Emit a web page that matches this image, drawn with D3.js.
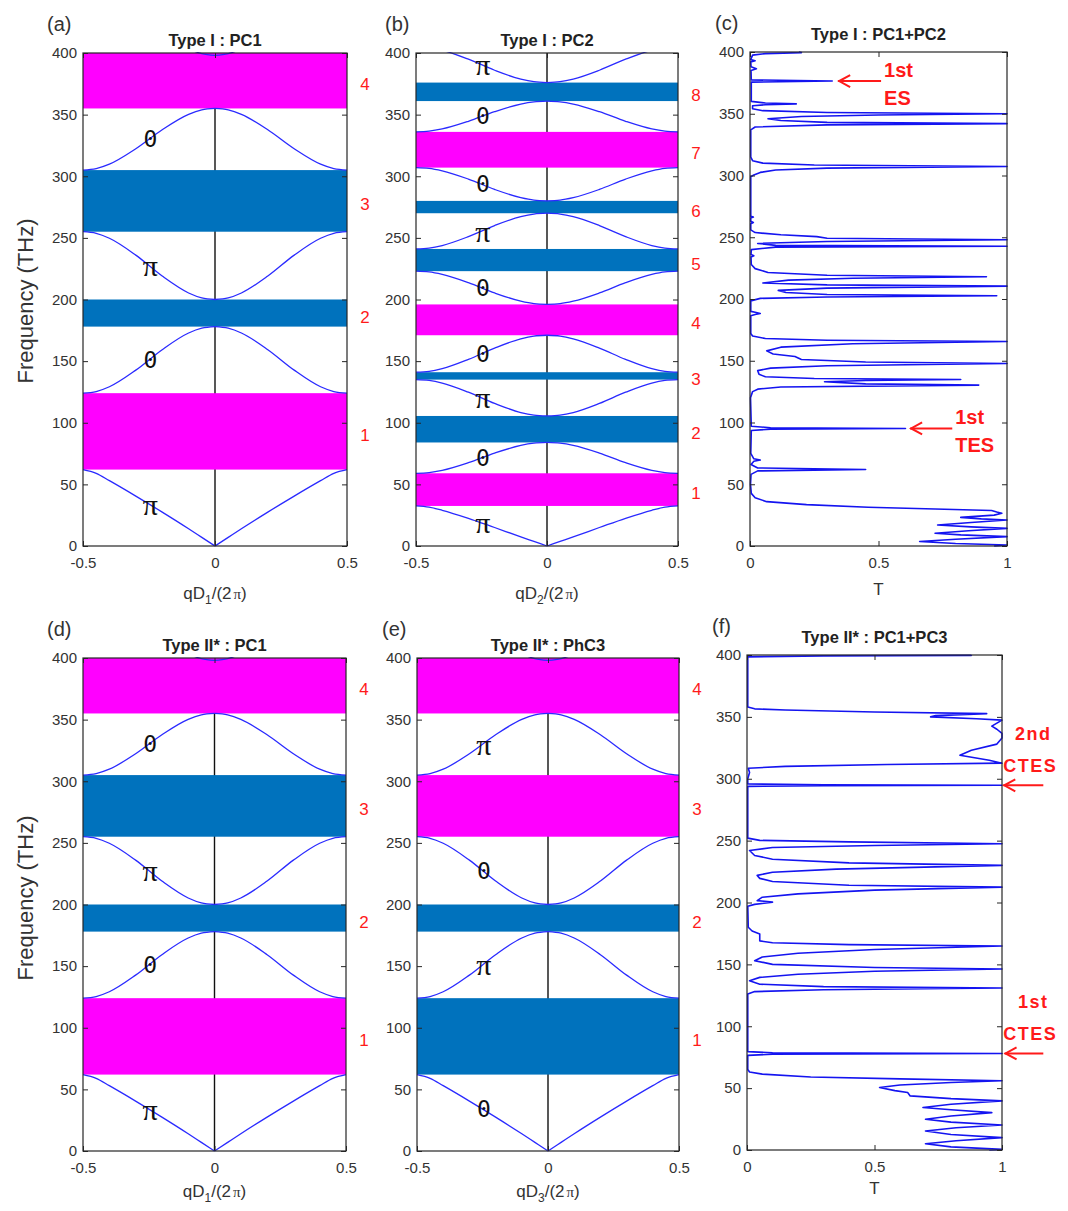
<!DOCTYPE html>
<html><head><meta charset="utf-8">
<script src="https://cdn.jsdelivr.net/npm/d3@7"></script>
<style>body{margin:0;background:#fff}</style>
</head><body><svg id="c" width="1068" height="1211"></svg>
<script>
// ---------------- DATA ----------------
const freqTicks = [0,50,100,150,200,250,300,350,400];
const qTicks = [-0.5,0,0.5];
const tTicks = [0,0.5,1];
const qGrid = [0,0.05,0.1,0.2,0.3,0.4,0.45,0.5];

// PC1 band structure (panels a, d)
const bandsPC1 = [
  [0,7,14,27.5,40.5,53,59,62],
  [178,176.7,172.8,159.3,142.7,129.2,125.3,124],
  [200,201.3,205.3,219,236,249.7,253.7,255],
  [355,353.8,350.2,337.7,322.3,309.8,306.2,305],
  [398,399.4,403.5,418.6,436.4,451.5,455.5,457]
];
const gapsPC1 = [[62,124],[178,200],[255,305],[355,400]];
const gapKindsA = ["m","b","b","m"];
const zakA = ["π","0","π","0"];

// PC2 band structure (panel b)
const bandsPC2 = [
  [0,3.7,7.4,15,22.5,29,31.5,32.5],
  [84,83.4,81.6,75.4,67.6,61.4,59.6,59],
  [105.5,106.2,108.3,115.7,124.8,132.2,134.3,135],
  [171,170.3,168.1,160.6,151.4,143.9,141.7,141],
  [196,196.6,198.6,205.3,213.7,220.4,222.4,223],
  [270,269.3,267.2,260,251,243.8,241.7,241],
  [280,280.6,282.6,289.3,297.7,304.4,306.4,307],
  [361,360.4,358.6,352.4,344.6,338.4,336.6,336],
  [376,376.7,378.8,386,395,402.2,404.3,405]
];
const gapsPC2 = [[32.5,59],[84,105.5],[135,141],[171,196],[223,241],[270,280],[307,336],[361,376]];
const gapKindsB = ["m","b","b","m","b","b","m","b"];
const zakB = ["π","0","π","0","0","π","0","0","π"];

// Type II*: PC1 (d) and PhC3 (e)
const gapKindsD = ["m","b","b","m"];
const zakD = ["π","0","π","0"];
const bandsPhC3 = [
  [0,7,14,27.5,40.5,53,59,62],
  [178,176.7,172.8,159.3,142.7,129.2,125.3,124],
  [200,201.3,205.3,219,236,249.7,253.7,255],
  [355,353.8,350.2,337.7,322.3,309.8,306.2,305],
  [398,399.4,403.5,418.6,436.4,451.5,455.5,457]
];
const gapsPhC3 = [[62,124],[178,200],[255,305],[355,400]];
const gapKindsE = ["b","b","m","m"];
const zakE = ["0","π","0","π"];

// Transmission spectra [frequency THz, T]
const specTypeI = [
 [0,0.95],[0.8,1],[2,0.8],[3.6,0.66],[5.5,0.8],[7.6,1],[9,0.82],[10.3,0.72],[12.3,0.85],[14.3,1],
 [15.5,0.86],[17,0.73],[19,0.86],[21,1],[22,0.9],[23.2,0.82],[25,0.95],[26.5,0.98],[27.5,0.96],[28.7,0.94],
 [30,0.72],[31.4,0.46],[33.5,0.22],[35.9,0.065],[39,0.02],[42.6,0.005],[50,0.002],[58,0.004],[60.8,0.03],[62,0.45],
 [63.2,0.03],[66,0.004],[68.6,0.015],[69.6,0.04],[70.6,0.015],[75,0.003],[93.5,0.005],[94.6,0.08],[95.2,0.605],[95.8,0.08],
 [97,0.005],[120,0.002],[125,0.01],[127,0.03],[128.8,0.12],[130.3,0.89],[131.3,0.45],[133,0.29],[134,0.45],[134.8,0.82],
 [135.6,0.25],[137,0.06],[139,0.035],[142,0.03],[144,0.08],[146,0.3],[147.8,1],[149,0.45],[151,0.2],[153.5,0.175],
 [155.5,0.09],[158,0.065],[161,0.12],[163.8,0.4],[165.6,1],[166.6,0.3],[168,0.06],[170,0.01],[172,0.003],[186.5,0.003],
 [187.5,0.02],[188.3,0.04],[189.2,0.02],[190,0.003],[198.5,0.003],[200.5,0.04],[201.6,0.3],[202.6,0.96],[203.6,0.3],[205.3,0.14],
 [207,0.11],[208.8,0.3],[210.4,1],[211.4,0.3],[213,0.05],[215.3,0.15],[216.8,0.4],[218,0.92],[219.2,0.3],[221.5,0.07],
 [224.6,0.02],[228,0.005],[234,0.004],[235,0.015],[236,0.004],[240,0.005],[242,0.1],[242.7,1],[243.4,0.1],[245,0.03],
 [246.6,0.3],[248,1],[249.2,0.3],[250.5,0.26],[252,0.12],[253.8,0.02],[256,0.003],[261,0.003],[262,0.013],[263,0.003],
 [265.5,0.003],[266.3,0.013],[267,0.003],[299,0.003],[300.5,0.015],[302.5,0.04],[304.5,0.1],[306,0.3],[307.3,1],[308.5,0.25],
 [310,0.05],[312,0.01],[315,0.003],[337,0.003],[339.3,0.02],[341,0.3],[342,1],[343,0.3],[344.5,0.12],[346,0.07],
 [347.8,0.2],[349,0.5],[350,1],[351,0.3],[352.5,0.05],[354,0.01],[356.5,0.01],[357.3,0.06],[358,0.18],[358.7,0.06],
 [360,0.005],[375.6,0.005],[376.5,0.32],[377.4,0.005],[385,0.004],[386.5,0.025],[388,0.004],[392,0.003],[393,0.02],[394,0.003],
 [397.5,0.01],[398.7,0.06],[399.5,0.2],[400,0.19]
];
const specTypeII = [
 [0,0.95],[0.5,1],[2.5,0.8],[5.1,0.7],[7.5,0.82],[10,1],[12.5,0.8],[15.4,0.7],[18,0.82],[20.2,1],
 [22.5,0.8],[24.8,0.7],[27.5,0.8],[30.2,0.96],[32.5,0.8],[34.3,0.69],[37,0.8],[39.7,1],[41.5,0.8],[43.7,0.64],
 [46.4,0.63],[48,0.58],[50.5,0.52],[52.5,0.6],[54.5,0.8],[56,1],[57.5,0.6],[59,0.25],[61.3,0.06],[63,0.01],
 [65,0.003],[76.5,0.003],[77.4,0.1],[78,1],[78.6,0.1],[79.5,0.003],[126,0.003],[128,0.03],[129.5,0.3],[130.9,1],
 [132,0.3],[134,0.05],[136.8,0.01],[139.5,0.05],[142,0.2],[144.5,0.5],[146.3,1],[147.5,0.5],[150,0.1],[153,0.03],
 [156,0.06],[159,0.2],[162,0.5],[164.8,1],[166,0.4],[167.5,0.1],[169,0.05],[172,0.05],[174.5,0.05],[177,0.02],
 [180,0.005],[197,0.003],[198.5,0.03],[200.3,0.1],[201.5,0.04],[204.3,0.06],[207,0.2],[210,0.5],[212.4,1],[214,0.4],
 [217,0.1],[219.5,0.05],[221.9,0.04],[224.5,0.1],[227,0.35],[230,1],[232,0.4],[235,0.1],[238,0.03],[242,0.01],
 [244.5,0.1],[246,0.5],[247.5,1],[249,0.4],[250.2,0.05],[252,0.003],[293.8,0.003],[294.3,0.3],[294.7,1],[295.1,0.3],
 [295.8,0.003],[300,0.003],[305,0.01],[308.5,0.005],[310,0.15],[311.5,0.55],[312.6,1],[315,0.95],[319,0.835],[323,0.88],
 [328,0.98],[333,1],[336.6,1],[340,0.98],[342.5,0.96],[345,0.98],[347.4,1],[348.5,0.9],[350,0.72],[351,0.74],
 [352.6,0.94],[354,0.5],[355.5,0.15],[356.5,0.03],[358,0.003],[398.5,0.003],[399.3,0.3],[399.7,0.88],[400,0.88]
];

const annotTypeI = [
  {f:376.5, t0:0.343, t1:0.51, lines:["1st","ES"]},
  {f:95.2, t0:0.623, t1:0.787, lines:["1st","TES"]}
];
const annotTypeII = [
  {f:294.7, t0:1.005, t1:1.162, lines:["2nd","CTES"]},
  {f:78, t0:1.01, t1:1.162, lines:["1st","CTES"]}
];

// ---------------- DRAWING ----------------
const svg = d3.select('#c');
svg.append('rect').attr('width',1068).attr('height',1211).attr('fill','#fff');
const COLORS = {m:'#ff00ff', b:'#0072bd'};
const CURVE = '#2a2aff';
const SPEC = '#1414f0';
const RED = '#ff1a1a';
const FONT = 'Liberation Sans, Arial, sans-serif';
let clipN = 0;

function makePanel(box, xDomain) {
  const g = svg.append('g');
  const x = d3.scaleLinear().domain(xDomain).range([box.x0, box.x1]);
  const y = d3.scaleLinear().domain([0,400]).range([box.y1, box.y0]);
  const id = 'clip' + (clipN++);
  svg.append('clipPath').attr('id', id).append('rect')
    .attr('x', box.x0 - 1).attr('y', box.y0 - 1)
    .attr('width', box.x1 - box.x0 + 2).attr('height', box.y1 - box.y0 + 2);
  return {g, x, y, clip: `url(#${id})`};
}

function drawAxes(p, box, xTickVals) {
  const {g, x, y} = p;
  const st = sel => {
    sel.select('.domain').remove();
    sel.selectAll('line').attr('stroke', '#262626');
    sel.selectAll('text').attr('font-family', FONT).attr('font-size', 15).attr('fill', '#333');
  };
  const fmt = d => String(d);
  g.append('g').attr('transform', `translate(${box.x0},0)`)
    .call(d3.axisLeft(y).tickValues(freqTicks).tickSizeInner(-5).tickSizeOuter(0).tickPadding(6).tickFormat(fmt)).call(st);
  g.append('g').attr('transform', `translate(${box.x1},0)`)
    .call(d3.axisRight(y).tickValues(freqTicks).tickSizeInner(-5).tickSizeOuter(0).tickFormat('')).call(st);
  g.append('g').attr('transform', `translate(0,${box.y1})`)
    .call(d3.axisBottom(x).tickValues(xTickVals).tickSizeInner(-5).tickSizeOuter(0).tickPadding(11).tickFormat(fmt)).call(st);
  g.append('g').attr('transform', `translate(0,${box.y0})`)
    .call(d3.axisTop(x).tickValues(xTickVals).tickSizeInner(-5).tickSizeOuter(0).tickFormat('')).call(st);
  g.append('rect').attr('x', box.x0).attr('y', box.y0)
    .attr('width', box.x1 - box.x0).attr('height', box.y1 - box.y0)
    .attr('fill', 'none').attr('stroke', '#262626').attr('stroke-width', 1.2);
}

function drawTexts(box, letter, title, titleDy) {
  svg.append('text').attr('x', box.letterX).attr('y', box.y0 - 22)
    .attr('font-family', FONT).attr('font-size', 20).attr('fill', '#333').text(letter);
  svg.append('text').attr('x', (box.x0 + box.x1) / 2).attr('y', box.y0 - 7 - titleDy)
    .attr('text-anchor', 'middle').attr('font-family', FONT).attr('font-size', 16.5)
    .attr('font-weight', 'bold').attr('fill', '#222').text(title);
}

function qLabel(box, sub) {
  const t = svg.append('text').attr('x', (box.x0 + box.x1) / 2).attr('y', box.y1 + box.labelDy)
    .attr('text-anchor', 'middle').attr('font-family', FONT).attr('font-size', 17).attr('fill', '#333');
  t.append('tspan').text('qD');
  t.append('tspan').attr('font-size', 12).attr('dy', 5).text(sub);
  t.append('tspan').attr('dy', -5).text('/(2');
  t.append('tspan').attr('font-family', 'Liberation Serif, serif').attr('font-size', 15).attr('dx', 2).text('π');
  t.append('tspan').text(')');
}

function bandPanel(box, bands, gaps, kinds, zak, letter, title, sub) {
  const p = makePanel(box, [-0.5, 0.5]);
  const {g, x, y} = p;
  g.append('line').attr('x1', x(0)).attr('x2', x(0)).attr('y1', y(0)).attr('y2', y(400))
    .attr('stroke', '#111').attr('stroke-width', 1.4);
  g.selectAll('rect.gap').data(gaps).join('rect').attr('class', 'gap')
    .attr('x', x(-0.5)).attr('width', x(0.5) - x(-0.5))
    .attr('y', d => y(d[1])).attr('height', d => y(d[0]) - y(d[1]))
    .attr('fill', (d, i) => COLORS[kinds[i]]);
  const line = d3.line().x(d => x(d[0])).y(d => y(d[1])).curve(d3.curveMonotoneX);
  const cg = g.append('g').attr('clip-path', p.clip);
  bands.forEach(b => {
    [1, -1].forEach(s => {
      let pts = qGrid.map((q, i) => [s * q, b[i]]);
      if (s < 0) pts = pts.reverse();
      cg.append('path').attr('d', line(pts)).attr('fill', 'none')
        .attr('stroke', CURVE).attr('stroke-width', 1.3);
    });
  });
  drawAxes(p, box, qTicks);
  zak.forEach((z, i) => {
    const fv = (bands[i][3] + bands[i][4]) / 2;
    const isPi = z === 'π';
    g.append('text').attr('x', x(-0.245)).attr('y', y(fv))
      .attr('text-anchor', 'middle').attr('dominant-baseline', 'central')
      .attr('font-family', isPi ? 'Liberation Serif, serif' : 'DejaVu Sans Mono, monospace')
      .attr('font-size', isPi ? 30 : 23).attr('fill', '#111').text(z);
  });
  gaps.forEach((d, i) => {
    g.append('text').attr('x', box.x1 + 18).attr('y', y((d[0] + d[1]) / 2) + 4)
      .attr('text-anchor', 'middle').attr('dominant-baseline', 'central')
      .attr('font-family', FONT).attr('font-size', 17).attr('fill', RED).text(String(i + 1));
  });
  drawTexts(box, letter, title, 0);
  qLabel(box, sub);
}

function specPanel(box, spec, annots, letter, title, annotStyle) {
  const p = makePanel(box, [0, 1]);
  const {g, x, y} = p;
  const line = d3.line().x(d => x(d[1])).y(d => y(d[0]));
  g.append('path').attr('d', line(spec)).attr('clip-path', p.clip)
    .attr('fill', 'none').attr('stroke', SPEC).attr('stroke-width', 1.6).attr('stroke-linejoin', 'round');
  drawAxes(p, box, tTicks);
  annots.forEach(a => {
    const ya = y(a.f), xt = x(a.t0), xe = x(a.t1);
    g.append('line').attr('x1', xt).attr('x2', xe).attr('y1', ya).attr('y2', ya)
      .attr('stroke', RED).attr('stroke-width', 2);
    g.append('path').attr('d', `M${xt + 12},${ya - 6}L${xt + 1},${ya}L${xt + 12},${ya + 6}`)
      .attr('fill', 'none').attr('stroke', RED).attr('stroke-width', 2);
    a.lines.forEach((s, k) => {
      const o = annotStyle.offsets[k];
      g.append('text').attr('x', xe + o[0]).attr('y', ya + o[1])
        .attr('text-anchor', annotStyle.anchor).attr('font-family', FONT)
        .attr('font-size', annotStyle.size).attr('font-weight', 'bold')
        .attr('letter-spacing', annotStyle.spacing).attr('fill', RED).text(s);
    });
  });
  drawTexts(box, letter, title, 5);
  svg.append('text').attr('x', (box.x0 + box.x1) / 2).attr('y', box.y1 + box.labelDy - 4)
    .attr('text-anchor', 'middle').attr('font-family', FONT).attr('font-size', 17).attr('fill', '#333').text('T');
}

const boxA = {x0:83, x1:347, y0:53, y1:546, letterX:47, labelDy:53};
const boxB = {x0:416, x1:678, y0:53, y1:546, letterX:385, labelDy:53};
const boxC = {x0:750, x1:1007, y0:52, y1:546, letterX:715, labelDy:53};
const boxD = {x0:83, x1:346, y0:658, y1:1151, letterX:47, labelDy:46};
const boxE = {x0:417, x1:679, y0:658, y1:1151, letterX:382, labelDy:46};
const boxF = {x0:747, x1:1002, y0:655, y1:1150, letterX:712, labelDy:48};

bandPanel(boxA, bandsPC1, gapsPC1, gapKindsA, zakA, '(a)', 'Type I : PC1', '1');
bandPanel(boxB, bandsPC2, gapsPC2, gapKindsB, zakB, '(b)', 'Type I : PC2', '2');
specPanel(boxC, specTypeI, annotTypeI, '(c)', 'Type I : PC1+PC2',
  {anchor:'start', size:20, spacing:0, offsets:[[3,-4],[3,24]]});
bandPanel(boxD, bandsPC1, gapsPC1, gapKindsD, zakD, '(d)', 'Type II* : PC1', '1');
bandPanel(boxE, bandsPhC3, gapsPhC3, gapKindsE, zakE, '(e)', 'Type II* : PhC3', '3');
specPanel(boxF, specTypeII, annotTypeII, '(f)', 'Type II* : PC1+PC3',
  {anchor:'middle', size:18, spacing:1.5, offsets:[[-10,-45],[-13,-13]]});

[ 301, 898 ].forEach(cy => {
  svg.append('text').attr('transform', `translate(33,${cy}) rotate(-90)`)
    .attr('text-anchor', 'middle').attr('font-family', FONT).attr('font-size', 22)
    .attr('fill', '#333').text('Frequency (THz)');
});
</script>
</body></html>
